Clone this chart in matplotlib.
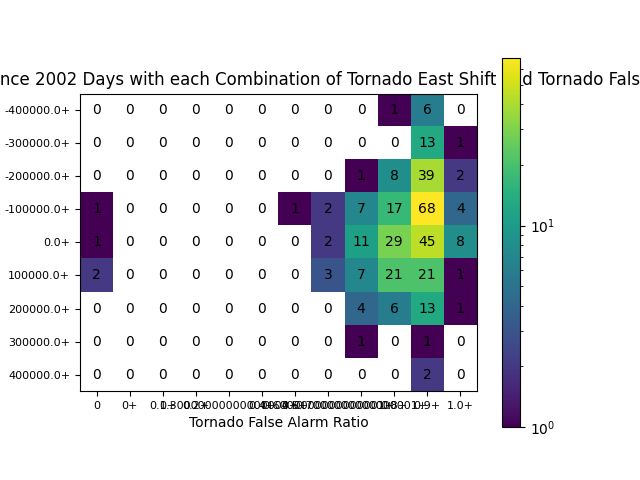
import numpy as np
import matplotlib
matplotlib.use('Agg')
import matplotlib.pyplot as plt
from matplotlib.colors import LogNorm

east_shift = ['-400000.0+', '-300000.0+', '-200000.0+', '-100000.0+', '0.0+',
              '100000.0+', '200000.0+', '300000.0+', '400000.0+']
false_alarm = ['0', '0+', '0.1+', '0.2+', '0.30000000000000004+', '0.4+', '0.5+',
               '0.6000000000000001+', '0.7000000000000001+', '0.8+', '0.9+', '1.0+']

row_m400 = [0, 0, 0, 0, 0, 0, 0, 0, 0, 1, 6, 0]
row_m300 = [0, 0, 0, 0, 0, 0, 0, 0, 0, 0, 13, 1]
row_m200 = [0, 0, 0, 0, 0, 0, 0, 0, 1, 8, 39, 2]
row_m100 = [1, 0, 0, 0, 0, 0, 1, 2, 7, 17, 68, 4]
row_0 = [1, 0, 0, 0, 0, 0, 0, 2, 11, 29, 45, 8]
row_p100 = [2, 0, 0, 0, 0, 0, 0, 3, 7, 21, 21, 1]
row_p200 = [0, 0, 0, 0, 0, 0, 0, 0, 4, 6, 13, 1]
row_p300 = [0, 0, 0, 0, 0, 0, 0, 0, 1, 0, 1, 0]
row_p400 = [0, 0, 0, 0, 0, 0, 0, 0, 0, 0, 2, 0]

# the start and end of this title run off the figure in the reference too
title = 'Number of All Events Since 2002 Days with each Combination of Tornado East Shift and Tornado False Alarm Ratio'

counts = np.array([row_m400, row_m300, row_m200, row_m100, row_0,
                   row_p100, row_p200, row_p300, row_p400])

fig, ax = plt.subplots()
im = ax.imshow(counts, norm=LogNorm(vmin=1, vmax=counts.max()), cmap='viridis')
fig.colorbar(im)

ax.set_xticks(np.arange(len(false_alarm)))
ax.set_xticklabels(false_alarm, fontsize=8)
ax.set_yticks(np.arange(len(east_shift)))
ax.set_yticklabels(east_shift, fontsize=8)
ax.set_xlabel('Tornado False Alarm Ratio')
ax.set_title(title, fontsize=12)

for i in range(counts.shape[0]):
    for j in range(counts.shape[1]):
        ax.text(j, i, counts[i, j], ha='center', va='center', color='k')

fig.savefig('out.png', dpi=100)
